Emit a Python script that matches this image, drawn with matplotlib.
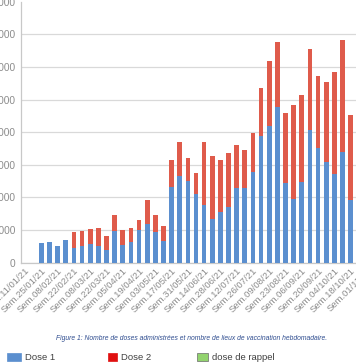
import matplotlib
matplotlib.use("Agg")
import matplotlib.pyplot as plt
import numpy as np
from matplotlib.patches import Rectangle

# semaines (lundi) - une étiquette sur deux est affichée
weeks = ["11/01/21", "18/01/21", "25/01/21", "01/02/21", "08/02/21", "15/02/21",
         "22/02/21", "01/03/21", "08/03/21", "15/03/21", "22/03/21", "29/03/21",
         "05/04/21", "12/04/21", "19/04/21", "26/04/21", "03/05/21", "10/05/21",
         "17/05/21", "24/05/21", "31/05/21", "07/06/21", "14/06/21", "21/06/21",
         "28/06/21", "05/07/21", "12/07/21", "19/07/21", "26/07/21", "02/08/21",
         "09/08/21", "16/08/21", "23/08/21", "30/08/21", "06/09/21", "13/09/21",
         "20/09/21", "27/09/21", "04/10/21", "11/10/21", "18/10/21", "25/10/21",
         "01/11/21"]

dose1 = [0, 0, 2950, 3100, 2600, 3450, 2300, 2550, 2900, 2550, 1900, 4850,
         2750, 3200, 5000, 5850, 4750, 3350, 11650, 13300, 12550, 10450, 8850,
         6700, 7750, 8550, 11400, 11500, 13850, 19400, 20950, 23800, 12150, 9700,
         12400, 20350, 17600, 15400, 13600, 17000, 9600, 0, 0]
dose2 = [0, 0, 0, 0, 0, 0, 2400, 2300, 2300, 2750, 2200, 2400,
         2200, 2050, 1500, 3700, 2500, 2300, 4100, 5150, 3500, 3350, 9600,
         9650, 8000, 8200, 6600, 5750, 6000, 7350, 9950, 9950, 10750, 14400,
         13350, 12350, 11050, 12350, 15550, 17150, 13100, 0, 0]
rappel = [0] * len(weeks)

yticks = [0, 5000, 10000, 15000, 20000, 25000, 30000, 35000, 40000]

BLUE = "#5B8FCF"
RED = "#DF5B4B"
GREEN = "#92D36E"
GREY = "#8C8C8C"

plt.rcParams["font.family"] = ["Liberation Sans", "DejaVu Sans"]

W, H = 356, 364
fig = plt.figure(figsize=(W / 100, H / 100), dpi=100)
fig.patch.set_facecolor("white")

n = len(weeks)
cat_w = 350 / n
ax = fig.add_axes([21 / W, (H - 262.6) / H, n * cat_w / W, 260.9 / H])

x = np.arange(n)
d1 = np.array(dose1)
d2 = np.array(dose2)
ax.bar(x, d1, width=0.58, color=BLUE, zorder=3)
ax.bar(x, d2, width=0.58, bottom=d1, color=RED, zorder=3)
ax.bar(x, rappel, width=0.58, bottom=d1 + d2, color=GREEN, zorder=3)

ax.set_xlim(-0.5, n - 0.5)
ax.set_ylim(0, yticks[-1])
ax.set_yticks(yticks)
ax.set_yticklabels([f"{v:,}".replace(",", " ") for v in yticks])
ax.tick_params(axis="y", length=0, pad=4, labelsize=7.3, labelcolor=GREY)

ax.set_xticks(x[::2])
ax.set_xticklabels(["Sem." + w for w in weeks[::2]], rotation=45, ha="right",
                   va="top", rotation_mode="anchor")
ax.tick_params(axis="x", length=0, pad=2.5, labelsize=6.8, labelcolor=GREY)

ax.yaxis.grid(True, color="#D9D9D9", linewidth=0.9, zorder=0)
ax.get_ygridlines()[-1].set_visible(False)
ax.set_axisbelow(True)
for s in ["top", "right"]:
    ax.spines[s].set_visible(False)
ax.spines["left"].set_color("#C8C8C8")
ax.spines["bottom"].set_color("#C8C8C8")
ax.spines["left"].set_linewidth(0.9)
ax.spines["bottom"].set_linewidth(0.9)

fig.text(192 / W, (H - 339) / H,
         "Figure 1: Nombre de doses administrées et nombre de lieux de vaccination hebdomadaire.",
         ha="center", va="center", fontsize=4.9, style="italic", color="#2E4C8F")

# légende
legend_items = [(7, 14, BLUE, "Dose 1"), (108, 9, "#E01010", "Dose 2"),
                (197, 11, GREEN, "dose de rappel")]
for x0, w, c, lab in legend_items:
    fig.patches.append(Rectangle((x0 / W, (H - 361) / H), w / W, 8 / H,
                                 transform=fig.transFigure, facecolor=c,
                                 edgecolor="#6A6A6A" if c == GREEN else c, linewidth=0.5))
    fig.text((x0 + w + 4) / W, (H - 357) / H, lab, ha="left", va="center",
             fontsize=6.8, color="#404040")

fig.savefig("out.png", dpi=100)
